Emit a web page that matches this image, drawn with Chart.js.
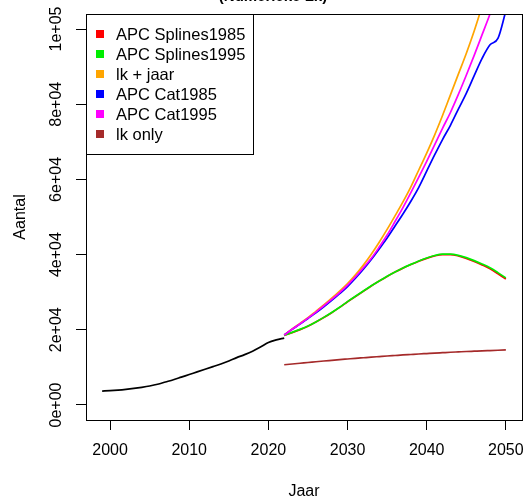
<!DOCTYPE html>
<html>
<head>
<meta charset="utf-8">
<title>Aantal per jaar</title>
<script src="https://cdn.jsdelivr.net/npm/chart.js@4/dist/chart.umd.min.js"></script>
<style>
  html, body { margin: 0; padding: 0; background: #fff; }
  canvas { display: block; }
</style>
</head>
<body>
<canvas id="chart" width="526" height="502"></canvas>
<script>
const histYears = [1999, 2000, 2001, 2002, 2003, 2004, 2005, 2006, 2007, 2008, 2009, 2010,
  2011, 2012, 2013, 2014, 2015, 2016, 2017, 2018, 2019, 2020, 2021, 2022];
const observed = [3700, 3800, 3950, 4150, 4400, 4700, 5050, 5500, 6100, 6700, 7400, 8100,
  8800, 9500, 10200, 10900, 11700, 12600, 13400, 14300, 15400, 16600, 17300, 17800];

const projYears = [2022, 2023, 2024, 2025, 2026, 2027, 2028, 2029, 2030, 2031, 2032, 2033,
  2034, 2035, 2036, 2037, 2038, 2039, 2040, 2041, 2042, 2043, 2044, 2045, 2046, 2047,
  2048, 2049, 2050];
const apcSplines1985 = [18500, 19250, 20050, 20950, 22050, 23250, 24550, 25950, 27450, 28850,
  30250, 31650, 32950, 34200, 35350, 36400, 37350, 38250, 39000, 39650, 40000, 40000, 39650,
  39000, 38200, 37250, 36200, 34900, 33500];
const apcSplines1995 = [18500, 19300, 20100, 21000, 22100, 23300, 24600, 26000, 27500, 28900,
  30300, 31700, 33000, 34250, 35400, 36450, 37400, 38300, 39100, 39750, 40100, 40100, 39800,
  39200, 38400, 37500, 36500, 35200, 33800];
const lkJaar = [18600, 20200, 21700, 23200, 24900, 26600, 28400, 30300, 32300, 34600, 37200,
  40100, 43300, 46700, 50300, 54000, 58000, 62500, 67000, 71800, 77000, 82500, 88000, 93500,
  99500, 106000, 112000, 118000, 124000];
const apcCat1985 = [18600, 20100, 21500, 23000, 24500, 26100, 27800, 29600, 31500, 33700,
  36100, 38700, 41500, 44400, 47600, 50800, 54200, 57900, 62200, 66500, 70600, 74400, 78700,
  82900, 87600, 92200, 95800, 97500, 104800];
const apcCat1995 = [18600, 20150, 21600, 23100, 24700, 26400, 28100, 29900, 31900, 34100,
  36500, 39000, 42000, 45200, 48800, 52500, 56500, 60600, 64800, 69200, 73600, 77800, 82600,
  87700, 93000, 98500, 104000, 110000, 116000];
const lkOnly = [10700, 10900, 11100, 11300, 11500, 11700, 11880, 12060, 12230, 12400, 12560,
  12720, 12870, 13020, 13160, 13300, 13430, 13560, 13680, 13800, 13910, 14020, 14120, 14220,
  14310, 14400, 14480, 14560, 14640];

const seriesNames = ["APC Splines1985", "APC Splines1995", "lk + jaar", "APC Cat1985", "APC Cat1995", "lk only"];
const seriesColors = ["#ff0000", "#00ee00", "#ffa500", "#0000ff", "#ff00ff", "#a52a2a"];
const seriesValues = [apcSplines1985, apcSplines1995, lkJaar, apcCat1985, apcCat1995, lkOnly];
// later series are drawn on top, like in the original
const seriesOrder = [5, 4, 3, 2, 1, 0];

const xTicks = [2000, 2010, 2020, 2030, 2040, 2050];
const yTicks = [0, 20000, 40000, 60000, 80000, 100000];

const FONT = "'Liberation Sans', Arial, sans-serif";

function sci(v) {
  if (v === 0) return "0e+00";
  const e = Math.floor(Math.log10(Math.abs(v)));
  const m = Math.round(v / Math.pow(10, e));
  return m + "e+" + String(e).padStart(2, "0");
}

function toPoints(xs, ys) {
  return xs.map((x, i) => ({ x: x, y: ys[i] }));
}

const datasets = [{
  label: "observed",
  data: toPoints(histYears, observed),
  borderColor: "#000",
  borderWidth: 1.7,
  order: 6
}];
seriesNames.forEach((name, i) => {
  datasets.push({
    label: name,
    data: toPoints(projYears, seriesValues[i]),
    borderColor: seriesColors[i],
    backgroundColor: seriesColors[i],
    borderWidth: 1.7,
    order: seriesOrder[i]
  });
});

const decorations = {
  id: "decorations",
  afterDraw(chart) {
    const ctx = chart.ctx;
    const a = chart.chartArea;
    const xs = chart.scales.x;
    const ys = chart.scales.y;
    ctx.save();

    // plot box
    ctx.strokeStyle = "#000";
    ctx.lineWidth = 1;
    ctx.strokeRect(a.left + 0.5, a.top + 0.5, a.right - a.left, a.bottom - a.top);

    ctx.fillStyle = "#000";
    ctx.font = "16px " + FONT;

    // x tick labels
    ctx.textAlign = "center";
    ctx.textBaseline = "middle";
    xs.ticks.forEach(t => {
      ctx.fillText(String(t.value), xs.getPixelForValue(t.value), 451);
    });

    // y tick labels, written vertically
    ys.ticks.forEach(t => {
      ctx.save();
      ctx.translate(57, ys.getPixelForValue(t.value));
      ctx.rotate(-Math.PI / 2);
      ctx.fillText(sci(t.value), 0, 0);
      ctx.restore();
    });

    // axis titles
    ctx.fillText("Jaar", (a.left + a.right) / 2, 492);
    ctx.save();
    ctx.translate(21, (a.top + a.bottom) / 2);
    ctx.rotate(-Math.PI / 2);
    ctx.fillText("Aantal", 0, 0);
    ctx.restore();

    // main title, mostly above the canvas
    ctx.font = "bold 15px " + FONT;
    ctx.textBaseline = "alphabetic";
    ctx.fillText("(Numerieke Lk)", 273, 1);

    // legend
    const lx = a.left, ly = a.top, lw = 167, lh = 140;
    ctx.fillStyle = "#fff";
    ctx.fillRect(lx, ly, lw, lh);
    ctx.strokeStyle = "#000";
    ctx.strokeRect(lx + 0.5, ly + 0.5, lw, lh);
    ctx.font = "16.5px " + FONT;
    ctx.textAlign = "left";
    ctx.textBaseline = "middle";
    seriesNames.forEach((name, i) => {
      const cy = ly + 20 + i * 20;
      ctx.fillStyle = seriesColors[i];
      ctx.fillRect(lx + 10, cy - 4, 8, 8);
      ctx.fillStyle = "#000";
      ctx.fillText(name, lx + 30, cy + 1);
    });

    ctx.restore();
  }
};

new Chart(document.getElementById("chart"), {
  type: "line",
  data: { datasets: datasets },
  plugins: [decorations],
  options: {
    responsive: false,
    animation: false,
    events: [],
    layout: { padding: { top: 14, right: 4, left: 0, bottom: 0 } },
    elements: {
      point: { radius: 0 },
      line: { cubicInterpolationMode: "monotone" }
    },
    datasets: { line: { clip: 0 } },
    plugins: {
      legend: { display: false },
      tooltip: { enabled: false },
      title: { display: false }
    },
    scales: {
      x: {
        type: "linear",
        min: 1996.96,
        max: 2052.04,
        afterBuildTicks: s => { s.ticks = xTicks.map(v => ({ value: v })); },
        afterFit: s => { s.height = 82; },
        grid: { drawOnChartArea: false, drawTicks: true, tickLength: 10, color: "#000", lineWidth: 1 },
        border: { display: false },
        ticks: { display: false }
      },
      y: {
        type: "linear",
        min: -4000,
        max: 104000,
        afterBuildTicks: s => { s.ticks = yTicks.map(v => ({ value: v })); },
        afterFit: s => { s.width = 86; },
        grid: { drawOnChartArea: false, drawTicks: true, tickLength: 10, color: "#000", lineWidth: 1 },
        border: { display: false },
        ticks: { display: false }
      }
    }
  }
});
</script>
</body>
</html>
